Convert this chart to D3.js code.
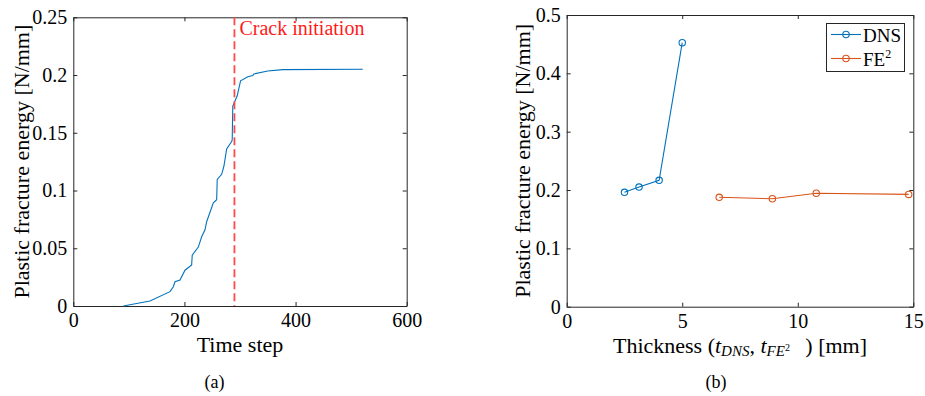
<!DOCTYPE html>
<html>
<head>
<meta charset="utf-8">
<script src="https://cdn.jsdelivr.net/npm/d3@7"></script>
<style>
  html, body { margin: 0; padding: 0; background: #fff; }
  svg { display: block; }
</style>
</head>
<body>
<svg id="chart" width="925" height="396"></svg>
<script>
// ---------- Data (a): plastic fracture energy vs time step ----------
const timeSteps = [90, 138, 174, 180, 183, 192, 201, 213, 214, 225, 231, 237, 240, 252, 258, 259, 267, 271, 276, 285, 286, 287, 295, 301, 314, 323, 325, 350, 377, 521];
const energyA   = [0, 0.0043, 0.0124, 0.0167, 0.021, 0.0225, 0.031, 0.0355, 0.044, 0.051, 0.060, 0.066, 0.073, 0.0894, 0.092, 0.1096, 0.114, 0.121, 0.136, 0.1424, 0.144, 0.173, 0.182, 0.195, 0.1985, 0.1995, 0.201, 0.2035, 0.2047, 0.205];
const crackStep = 290;
const xTicksA = [0, 200, 400, 600];
const yTicksA = [0, 0.05, 0.1, 0.15, 0.2, 0.25];

// ---------- Data (b): plastic fracture energy vs thickness ----------
const dnsThickness = [2.5, 3.13, 4.0, 5.0];
const dnsEnergy    = [0.196, 0.205, 0.2166, 0.4526];
const feThickness  = [6.6, 8.9, 10.8, 14.8];
const feEnergy     = [0.1875, 0.185, 0.1945, 0.1925];
const xTicksB = [0, 5, 10, 15];
const yTicksB = [0, 0.1, 0.2, 0.3, 0.4, 0.5];

const blue = "#0072BD", orange = "#D95319", axisCol = "#262626";
const FONT = '"Liberation Serif"';
const svg = d3.select("#chart").style("font-family", FONT);
const FS = 20, FL = 22, FG = 19;

function txt(sel) { return sel.style("font-family", FONT); }

function drawAxes(g, x, y, xt, yt, w, h) {
  const fmt = d => String(+d.toFixed(3));
  g.append("g").attr("transform", `translate(0,${h})`)
    .call(d3.axisBottom(x).tickValues(xt).tickSizeInner(-4).tickSizeOuter(0).tickPadding(7).tickFormat(fmt));
  g.append("g")
    .call(d3.axisLeft(y).tickValues(yt).tickSizeInner(-4).tickSizeOuter(0).tickPadding(6).tickFormat(fmt));
  g.append("g")
    .call(d3.axisTop(x).tickValues(xt).tickSizeInner(-4).tickSizeOuter(0).tickFormat(""));
  g.append("g").attr("transform", `translate(${w},0)`)
    .call(d3.axisRight(y).tickValues(yt).tickSizeInner(-4).tickSizeOuter(0).tickFormat(""));
  g.selectAll("g").attr("font-family", null);
  g.selectAll(".domain").attr("stroke", axisCol).attr("stroke-width", 1);
  g.selectAll(".tick line").attr("stroke", axisCol);
  g.selectAll(".tick text").style("font-family", FONT).style("font-size", FS + "px").style("fill", "#000");
}

// ---------- Panel (a) ----------
{
  const L = 73.3, T = 17.3, R = 406.7, B = 306;
  const w = R - L, h = B - T;
  const g = svg.append("g").attr("transform", `translate(${L},${T})`);
  const x = d3.scaleLinear().domain([0, 600]).range([0, w]);
  const y = d3.scaleLinear().domain([0, 0.25]).range([h, 0]);
  drawAxes(g, x, y, xTicksA, yTicksA, w, h);

  const pts = timeSteps.map((t, i) => [t, energyA[i]]);
  g.append("path").datum(pts)
    .attr("fill", "none").attr("stroke", blue).attr("stroke-width", 1.1)
    .attr("d", d3.line().x(d => x(d[0])).y(d => y(d[1])));

  g.append("line")
    .attr("x1", x(crackStep)).attr("x2", x(crackStep)).attr("y1", 0).attr("y2", h)
    .attr("stroke", "#ff4a4a").attr("stroke-width", 1.8).attr("stroke-dasharray", "8,4");
  txt(g.append("text")).attr("x", x(crackStep) + 5).attr("y", 18)
    .style("font-size", FS + "px").style("fill", "#ff1a1a").text("Crack initiation");

  txt(g.append("text")).attr("x", w / 2).attr("y", 352 - T).attr("text-anchor", "middle")
    .style("font-size", FL + "px").text("Time step");
  txt(g.append("text")).attr("transform", `translate(${29 - L},${h / 2}) rotate(-90)`)
    .attr("text-anchor", "middle").style("font-size", FL + "px").text("Plastic fracture energy [N/mm]");
  txt(svg.append("text")).attr("x", 214.5).attr("y", 388).attr("text-anchor", "middle")
    .style("font-size", "18px").text("(a)");
}

// ---------- Panel (b) ----------
{
  const L = 566.7, T = 15, R = 913.3, B = 306.7;
  const w = R - L, h = B - T;
  const g = svg.append("g").attr("transform", `translate(${L},${T})`);
  const x = d3.scaleLinear().domain([0, 15]).range([0, w]);
  const y = d3.scaleLinear().domain([0, 0.5]).range([h, 0]);
  drawAxes(g, x, y, xTicksB, yTicksB, w, h);

  const series = [
    { name: "DNS", xs: dnsThickness, ys: dnsEnergy, color: blue },
    { name: "FE", xs: feThickness, ys: feEnergy, color: orange }
  ];
  series.forEach(s => {
    const pts = s.xs.map((v, i) => [v, s.ys[i]]);
    g.append("path").datum(pts)
      .attr("fill", "none").attr("stroke", s.color).attr("stroke-width", 1.1)
      .attr("d", d3.line().x(d => x(d[0])).y(d => y(d[1])));
    g.selectAll(null).data(pts).enter().append("circle")
      .attr("cx", d => x(d[0])).attr("cy", d => y(d[1])).attr("r", 3.2)
      .attr("fill", "none").attr("stroke", s.color).attr("stroke-width", 1.1);
  });

  // legend
  const lg = svg.append("g");
  lg.append("rect").attr("x", 826.5).attr("y", 23.5).attr("width", 78).attr("height", 48)
    .attr("fill", "#fff").attr("stroke", axisCol).attr("stroke-width", 1);
  series.forEach((s, i) => {
    const cy = 34.5 + i * 24;
    lg.append("line").attr("x1", 831).attr("x2", 861).attr("y1", cy).attr("y2", cy)
      .attr("stroke", s.color).attr("stroke-width", 1.1);
    lg.append("circle").attr("cx", 846).attr("cy", cy).attr("r", 3.2)
      .attr("fill", "none").attr("stroke", s.color).attr("stroke-width", 1.1);
    const t = txt(lg.append("text")).attr("x", 863).attr("y", cy + 7).style("font-size", FG + "px");
    if (s.name === "FE") {
      t.append("tspan").text("FE");
      t.append("tspan").style("font-size", "12px").attr("dy", -8).text("2");
    } else {
      t.text(s.name);
    }
  });

  // x label
  const xl = txt(g.append("text")).attr("x", w / 2).attr("y", 353 - T).attr("text-anchor", "middle").style("font-size", FL + "px");
  xl.append("tspan").text("Thickness (");
  xl.append("tspan").style("font-style", "italic").text("t");
  xl.append("tspan").style("font-style", "italic").style("font-size", "15px").attr("dy", 3).text("DNS");
  xl.append("tspan").attr("dy", -3).text(", ");
  xl.append("tspan").style("font-style", "italic").text("t");
  xl.append("tspan").style("font-style", "italic").style("font-size", "15px").attr("dy", 3).text("FE");
  xl.append("tspan").style("font-size", "10px").attr("dy", -5).text("2");
  xl.append("tspan").attr("dy", 2).text("\u2002\u2009) [mm]");

  txt(g.append("text")).attr("transform", `translate(${530 - L},${h / 2}) rotate(-90)`)
    .attr("text-anchor", "middle").style("font-size", FL + "px").text("Plastic fracture energy [N/mm]");
  txt(svg.append("text")).attr("x", 716).attr("y", 388).attr("text-anchor", "middle")
    .style("font-size", "18px").text("(b)");
}
</script>
</body>
</html>
